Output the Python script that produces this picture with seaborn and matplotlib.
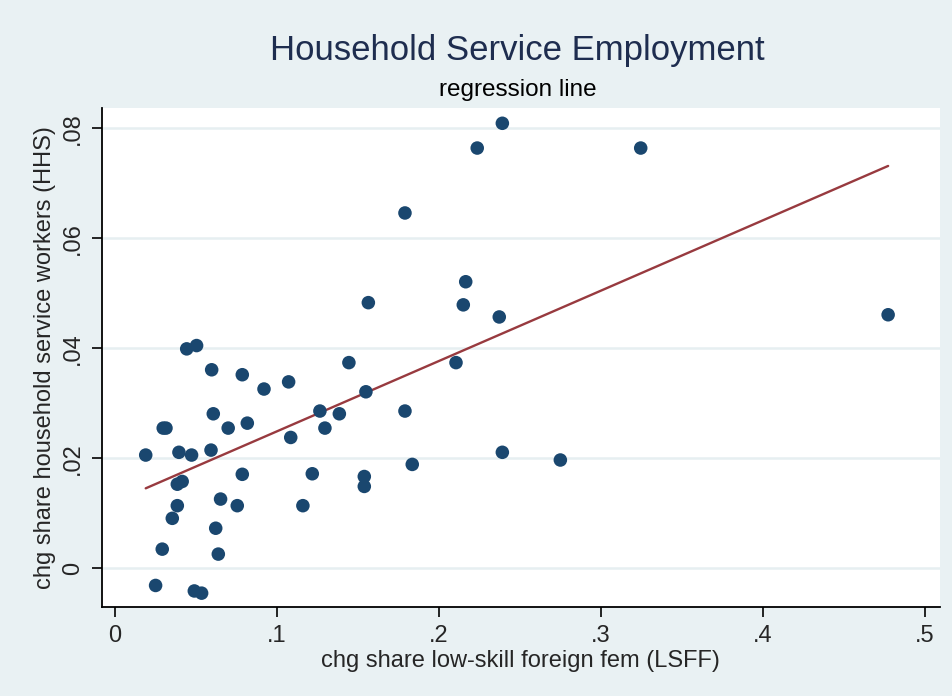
import numpy as np
import pandas as pd
import matplotlib
matplotlib.use("Agg")
import matplotlib.pyplot as plt
import seaborn as sns

# change in share of low-skill foreign females (LSFF)
lsff = [0.0443, 0.0504, 0.0597, 0.0786, 0.0920, 0.1072, 0.0607, 0.0699, 0.0817,
        0.0298, 0.0315, 0.1085, 0.0190, 0.0395, 0.0473, 0.0593, 0.0786, 0.0385,
        0.0415, 0.0652, 0.0755, 0.0385, 0.0354, 0.0622, 0.0292, 0.0638, 0.0251,
        0.0490, 0.0535, 0.2165, 0.2150, 0.2372, 0.1564, 0.1444, 0.2105, 0.1549,
        0.1265, 0.1385, 0.1790, 0.1296, 0.2391, 0.1835, 0.1218, 0.1539, 0.1539,
        0.1160, 0.2391, 0.2236, 0.1790, 0.3245, 0.4772, 0.2749]
# change in share of household service workers (HHS)
hhs = [0.0399, 0.0405, 0.0361, 0.0352, 0.0326, 0.0339, 0.0281, 0.0255, 0.0264,
       0.0255, 0.0255, 0.0238, 0.0206, 0.0211, 0.0206, 0.0215, 0.0171, 0.0153,
       0.0158, 0.0126, 0.0114, 0.0114, 0.0091, 0.0073, 0.0035, 0.0026, -0.0031,
       -0.0041, -0.0045, 0.0521, 0.0479, 0.0457, 0.0483, 0.0374, 0.0374, 0.0321,
       0.0286, 0.0281, 0.0286, 0.0255, 0.0211, 0.0189, 0.0172, 0.0167, 0.0149,
       0.0114, 0.0809, 0.0764, 0.0646, 0.0764, 0.0461, 0.0197]

x_ticks = [0, 0.1, 0.2, 0.3, 0.4, 0.5]
x_labels = ["0", ".1", ".2", ".3", ".4", ".5"]
y_ticks = [0, 0.02, 0.04, 0.06, 0.08]
y_labels = ["0", ".02", ".04", ".06", ".08"]

df = pd.DataFrame({"lsff": lsff, "hhs": hhs})

sns.set_style("white")
plt.rcParams["font.family"] = ["Liberation Sans", "DejaVu Sans"]

bg = "#e9f1f3"
fig = plt.figure(figsize=(9.53, 6.96), dpi=100, facecolor=bg)
ax = fig.add_axes([0.107, 0.128, 0.879, 0.717])
ax.set_facecolor("white")

sns.regplot(
    x="lsff", y="hhs", data=df, ci=None, ax=ax,
    scatter_kws=dict(s=95, color="#1a476f", edgecolor="none", alpha=1, zorder=3),
    line_kws=dict(color="#983a3f", linewidth=1.7, zorder=2),
)

# Stata-like axes
ax.set_xlim(-0.008, 0.509)
ax.set_ylim(-0.0070, 0.0837)
ax.set_xticks(x_ticks)
ax.set_xticklabels(x_labels)
ax.set_yticks(y_ticks)
ax.set_yticklabels(y_labels, rotation=90, va="center")
ax.tick_params(axis="both", direction="out", length=7, width=1.2, color="black",
               labelsize=17, pad=6, bottom=True, left=True)

ax.grid(axis="y", color="#e6eff1", linewidth=1.8)
ax.grid(axis="x", visible=False)
ax.set_axisbelow(True)

for side in ["top", "right"]:
    ax.spines[side].set_visible(False)
for side in ["left", "bottom"]:
    ax.spines[side].set_color("black")
    ax.spines[side].set_linewidth(1.3)

ax.set_xlabel("chg share low-skill foreign fem (LSFF)", fontsize=17, labelpad=2)
ax.set_ylabel("chg share household service workers (HHS)", fontsize=17, labelpad=4)

fig.text(0.543, 0.928, "Household Service Employment", ha="center", va="center",
         fontsize=25, color="#1e2d4f")
fig.text(0.543, 0.871, "regression line", ha="center", va="center",
         fontsize=17.5, color="black")

fig.savefig("out.png", dpi=100, facecolor=bg)
